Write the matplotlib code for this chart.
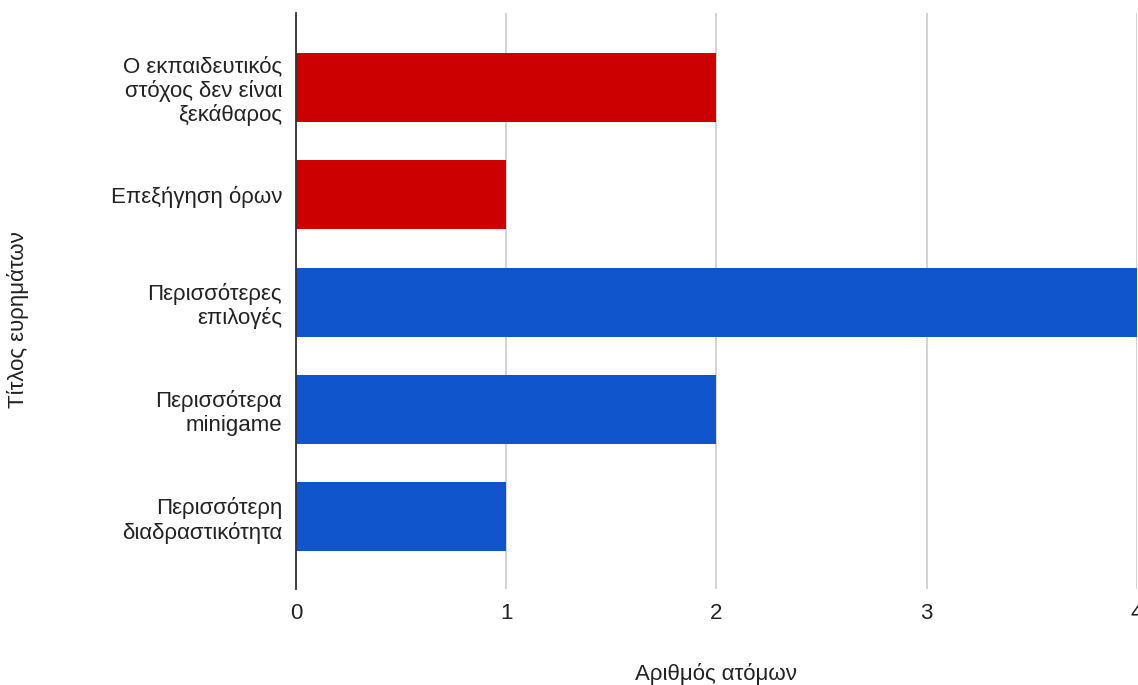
import matplotlib
matplotlib.use("Agg")
import matplotlib.pyplot as plt

categories = [
    "Ο εκπαιδευτικός\nστόχος δεν είναι\nξεκάθαρος",
    "Επεξήγηση όρων",
    "Περισσότερες\nεπιλογές",
    "Περισσότερα\nminigame",
    "Περισσότερη\nδιαδραστικότητα",
]
values = [2, 1, 4, 2, 1]
bar_colors = ["#cc0000", "#cc0000", "#1155cc", "#1155cc", "#1155cc"]
x_ticks = [0, 1, 2, 3, 4]
x_label = "Αριθμός ατόμων"
y_label = "Τίτλος ευρημάτων"

plt.rcParams["font.family"] = ["Liberation Sans", "DejaVu Sans"]
FS = 16

fig = plt.figure(figsize=(11.38, 6.85), dpi=100)
ax = fig.add_axes([0.2601, 0.140, 0.7390, 0.841])

pos = list(range(len(categories)))
ax.barh(pos, values, height=0.643, color=bar_colors, zorder=3)

ax.set_xlim(0, 4)
ax.set_ylim(len(categories) - 1 + 0.676, -0.694)
ax.set_xticks(x_ticks)
ax.set_xticklabels([str(t) for t in x_ticks])
ax.set_yticks(pos)
ax.set_yticklabels(categories, ha="right", multialignment="right",
                   linespacing=1.15)

ax.grid(axis="x", color="#cccccc", linewidth=1.2, zorder=0)
ax.set_axisbelow(True)
for side in ["top", "right", "bottom"]:
    ax.spines[side].set_visible(False)
ax.spines["left"].set_color("#333333")
ax.spines["left"].set_linewidth(1.3)
ax.spines["left"].set_zorder(4)

ax.tick_params(axis="both", length=0, labelsize=FS, colors="#222222")
ax.tick_params(axis="y", pad=10)
ax.tick_params(axis="x", pad=10)

ax.set_xlabel(x_label, fontsize=FS, color="#222222", labelpad=28)
fig.text(0.016, 0.533, y_label, rotation=90, fontsize=FS, color="#222222",
         ha="center", va="center")

fig.savefig("out.png", dpi=100)
